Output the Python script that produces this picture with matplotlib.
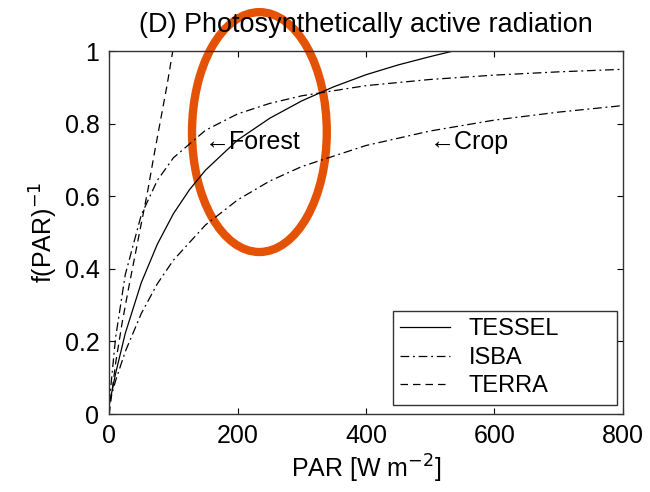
import matplotlib
matplotlib.use("Agg")
import matplotlib.pyplot as plt
from matplotlib.patches import Ellipse

plt.rcParams['font.family'] = ['Liberation Sans', 'DejaVu Sans']

# values
par_tessel = [0, 10, 25, 50, 75, 100, 125, 150, 200, 250, 300, 350, 400, 450, 500, 535, 800]
f_tessel = [0.025, 0.112, 0.222, 0.362, 0.468, 0.552, 0.618, 0.672, 0.755, 0.815,
            0.863, 0.902, 0.935, 0.962, 0.985, 1.0, 1.0]

par_isba = [0, 10, 25, 50, 75, 100, 150, 200, 250, 300, 400, 500, 600, 700, 800]
f_isba_forest = [0.03, 0.211, 0.384, 0.549, 0.644, 0.706, 0.782, 0.827, 0.856, 0.877,
                 0.905, 0.922, 0.934, 0.943, 0.950]
f_isba_crop = [0.03, 0.092, 0.172, 0.277, 0.359, 0.424, 0.521, 0.590, 0.642, 0.682,
               0.740, 0.780, 0.810, 0.832, 0.850]

par_terra = [0, 10, 20, 30, 40, 50, 60, 70, 80, 90, 99]
f_terra = [0.0, 0.14, 0.25, 0.345, 0.435, 0.525, 0.615, 0.715, 0.81, 0.905, 1.0]

fs = 18

fig = plt.figure(figsize=(6.5, 4.92), dpi=100)
ax = fig.add_axes([0.168, 0.1585, 0.79, 0.7375])

dashdot = (0, (7, 3, 1.5, 3))
ax.plot(par_tessel, f_tessel, color='black', lw=0.9, ls='-', label='TESSEL')
ax.plot(par_isba, f_isba_forest, color='black', lw=0.9, ls=dashdot, label='ISBA')
ax.plot(par_isba, f_isba_crop, color='black', lw=0.9, ls=dashdot)
ax.plot(par_terra, f_terra, color='black', lw=0.9, ls=(0, (6, 4)), label='TERRA')

ax.set_xlim(0, 800)
ax.set_ylim(0, 1)
ax.set_xticks([0, 200, 400, 600, 800])
ax.set_yticks([0, 0.2, 0.4, 0.6, 0.8, 1])
ax.set_yticklabels(['0', '0.2', '0.4', '0.6', '0.8', '1'])
ax.tick_params(direction='in', top=True, right=True, length=4, labelsize=fs, pad=7)
for s in ax.spines.values():
    s.set_linewidth(1.0)
    s.set_color('#333333')

ax.set_title('(D) Photosynthetically active radiation', fontsize=19.5, pad=14)
ax.set_xlabel('PAR [W m$^{-2}$]', fontsize=fs, labelpad=4)
ax.set_ylabel('f(PAR)$^{-1}$', fontsize=fs, labelpad=3)

ax.text(149, 0.75, '\u2190Forest', fontsize=fs, va='center', ha='left')
ax.text(500, 0.75, '\u2190Crop', fontsize=fs, va='center', ha='left')

leg = ax.legend(loc='lower left', bbox_to_anchor=(0.5525, 0.025, 0.436, 0.256),
                mode='expand', fontsize=17, frameon=True, fancybox=False,
                edgecolor='#333333', framealpha=1, handlelength=2.1,
                borderaxespad=0, borderpad=0.32, labelspacing=0.28, handletextpad=0.8)
leg.get_frame().set_linewidth(1.0)

ell = Ellipse((234, 0.777), 210, 0.661, fill=False, edgecolor='#e35205', lw=6, clip_on=False)
ax.add_patch(ell)

fig.savefig('out.png', dpi=100)
